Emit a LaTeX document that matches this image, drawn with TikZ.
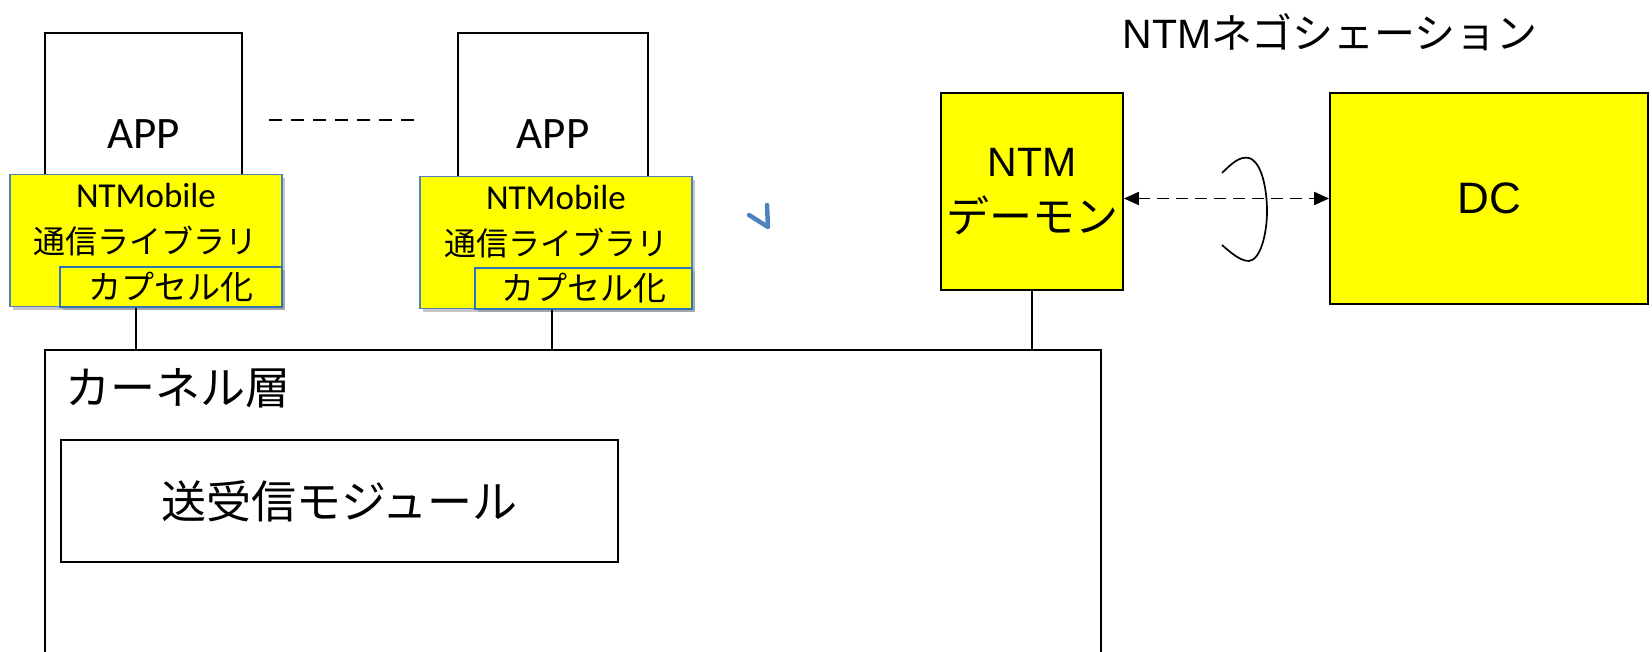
\documentclass[tikz,border=0pt]{standalone}
\usepackage{fontspec}
\setmainfont{Liberation Sans}
\newfontfamily\cjk{Noto Sans CJK JP}
\newfontfamily\calib{Carlito}
\usepackage{xcolor}
\usetikzlibrary{arrows.meta,shadows}
\definecolor{libblue}{HTML}{4F81BD}
\definecolor{capblue}{HTML}{2E75B6}
\definecolor{ntmyellow}{HTML}{FFFF00}

\begin{document}
\begin{tikzpicture}[x=1pt,y=-1pt,
    appbox/.style={draw,line width=1.8pt,minimum width=197pt,minimum height=202pt,font=\calib\fontsize{45}{54}\selectfont},
    libbox/.style={draw=libblue,line width=1.8pt,fill=ntmyellow,minimum width=272pt,minimum height=132pt,
        drop shadow={shadow xshift=3pt,shadow yshift=-3pt,fill=gray,opacity=0.45}},
    libtext/.style={anchor=north,inner sep=0pt,align=center,font=\calib\fontsize{35}{46}\selectfont},
    capbox/.style={draw=capblue,line width=2pt,fill=ntmyellow,minimum width=222pt,minimum height=40pt,inner sep=0pt,
        font=\cjk\fontsize{33}{40}\selectfont,drop shadow={shadow xshift=3pt,shadow yshift=-3pt,fill=gray,opacity=0.45}},
    ybox/.style={draw,line width=1.8pt,fill=ntmyellow},
    plainbox/.style={draw,line width=2pt},
    link/.style={line width=1.6pt},
    nego/.style={line width=1.9pt,dash pattern=on 12pt off 7pt,{Triangle[length=15pt,width=13pt]}-{Triangle[length=15pt,width=13pt]}}]
    \useasboundingbox (0,0) rectangle (1652,651);

    % applications
    \node[appbox] (app1) at (143.5,134) {APP};
    \node[appbox,minimum width=190pt] (app2) at (553,134) {APP};
    \draw[line width=2pt,dash pattern=on 13pt off 9pt,shorten <=26pt,shorten >=41pt] ([yshift=14]app1.east) -- ([yshift=14]app2.west);

    % NTMobile libraries
    \node[libbox] (lib1) at (146,240.5) {};
    \node[libtext] (lib1t) at ([yshift=-9]lib1.north) {NTMobile\\{\cjk\fontsize{32}{46}\selectfont 通信ライブラリ}};
    \node[capbox] (cap1) at (171,287) {カプセル化};
    \node[libbox] (lib2) at (556,242.5) {};
    \node[libtext] (lib2t) at ([yshift=-9]lib2.north) {NTMobile\\{\cjk\fontsize{32}{46}\selectfont 通信ライブラリ}};
    \node[capbox,minimum width=217pt,minimum height=41pt] (cap2) at (583.5,288.5) {カプセル化};

    % kernel
    \node[plainbox,line width=2.4pt,minimum width=1056pt,minimum height=320pt] (kern) at (573,510) {};
    \node[anchor=base west,font=\cjk\fontsize{45}{54}\selectfont] (kernt) at ([xshift=18,yshift=-56]kern.north west) {カーネル層};
    \node[plainbox,minimum width=557pt,minimum height=122pt,font=\cjk\fontsize{45}{54}\selectfont] (mod) at (339.5,501) {送受信モジュール};

    % daemon and DC
    \node[ybox,minimum width=182pt,minimum height=197pt,align=center,font=\fontsize{41}{56}\selectfont] (ntm) at (1032,191.5) {NTM\\{\cjk\fontsize{43}{56}\selectfont デーモン}};
    \node[ybox,minimum width=318pt,minimum height=211pt,font=\fontsize{44}{52}\selectfont] (dc) at (1489,198.5) {DC};
    \node[anchor=base,font=\fontsize{41}{50}\selectfont] (title) at (1330,48) {NTM{\cjk ネゴシェーション}};

    % links to kernel
    \coordinate (c1) at ([xshift=-35]cap1.south);
    \coordinate (c2) at ([xshift=-31.5]cap2.south);
    \draw[link] (c1) -- (c1 |- kern.north);
    \draw[link] (c2) -- (c2 |- kern.north);
    \draw[link] (ntm.south) -- (ntm.south |- kern.north);

    % negotiation
    \draw[nego] (ntm.east |- dc.west) -- (dc.west);
    \draw[line width=1.7pt] (1222,173) .. controls (1232,163) and (1240,156) .. (1249,158)
        .. controls (1262,162) and (1267,190) .. (1267,211)
        .. controls (1267,235) and (1260,260) .. (1249,261)
        .. controls (1240,261) and (1230,252) .. (1222,245);

    % stray mark
    \draw[libblue,line width=4.5pt,line cap=round,line join=round] (749,215) -- (768,227) -- (767,205);
\end{tikzpicture}
\end{document}
